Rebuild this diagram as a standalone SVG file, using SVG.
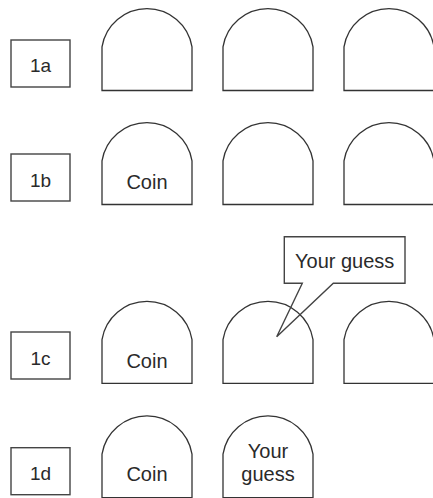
<svg xmlns="http://www.w3.org/2000/svg" width="433" height="498" viewBox="0 0 433 498">
<defs>
<style>
.lbl{fill:#fff;stroke:#444;stroke-width:1.4}
.door{fill:#fff;stroke:#333;stroke-width:1.3}
.call{fill:none;stroke:#444;stroke-width:1.4;stroke-linejoin:miter}
text{font-family:"Liberation Sans",Arial,sans-serif;font-size:20px;fill:#2a2a2a;text-anchor:middle}
.lt{font-size:19px}
</style>
<path id="d" d="M0,82 L0,38.4 A45.6,45.6 0 0 1 90,38.4 L90,82 Z"/>
</defs>
<rect width="433" height="498" fill="#fff"/>

<g id="row1a">
<g id="label1a"><rect class="lbl" x="11" y="40" width="59" height="47"/><text class="lt" x="40.5" y="71.5">1a</text></g>
<g id="door1a1"><use href="#d" class="door" x="102" y="8.5"/></g>
<g id="door1a2"><use href="#d" class="door" x="223" y="8.5"/></g>
<g id="door1a3"><use href="#d" class="door" x="344" y="8.5"/></g>
</g>

<g id="row1b">
<g id="label1b"><rect class="lbl" x="11" y="154" width="59" height="47"/><text class="lt" x="40.5" y="186.5">1b</text></g>
<g id="door1b1"><use href="#d" class="door" x="102" y="122.5"/><text x="147" y="188.5">Coin</text></g>
<g id="door1b2"><use href="#d" class="door" x="223" y="122.5"/></g>
<g id="door1b3"><use href="#d" class="door" x="344" y="122.5"/></g>
</g>

<g id="row1c">
<g id="label1c"><rect class="lbl" x="11" y="332" width="59" height="47"/><text class="lt" x="40.5" y="364.5">1c</text></g>
<g id="door1c1"><use href="#d" class="door" x="102" y="301.3"/><text x="147" y="367.5">Coin</text></g>
<g id="door1c2"><use href="#d" class="door" x="223" y="301.3"/></g>
<g id="door1c3"><use href="#d" class="door" x="344" y="301.3"/></g>
<g id="callout1c"><path class="call" d="M284.3,236.7 L405,236.7 L405,283.3 L333.3,283.3 L276.7,336.7 L302.3,283.3 L284.3,283.3 Z"/><text x="344.7" y="267.5">Your guess</text></g>
</g>

<g id="row1d">
<g id="label1d"><rect class="lbl" x="11" y="447.7" width="59" height="47"/><text class="lt" x="40.5" y="479.5">1d</text></g>
<g id="door1d1"><use href="#d" class="door" x="102" y="415.7"/><text x="147" y="481">Coin</text></g>
<g id="door1d2"><use href="#d" class="door" x="223" y="415.7"/><text x="268" y="457.5">Your</text><text x="268" y="481">guess</text></g>
</g>
</svg>
